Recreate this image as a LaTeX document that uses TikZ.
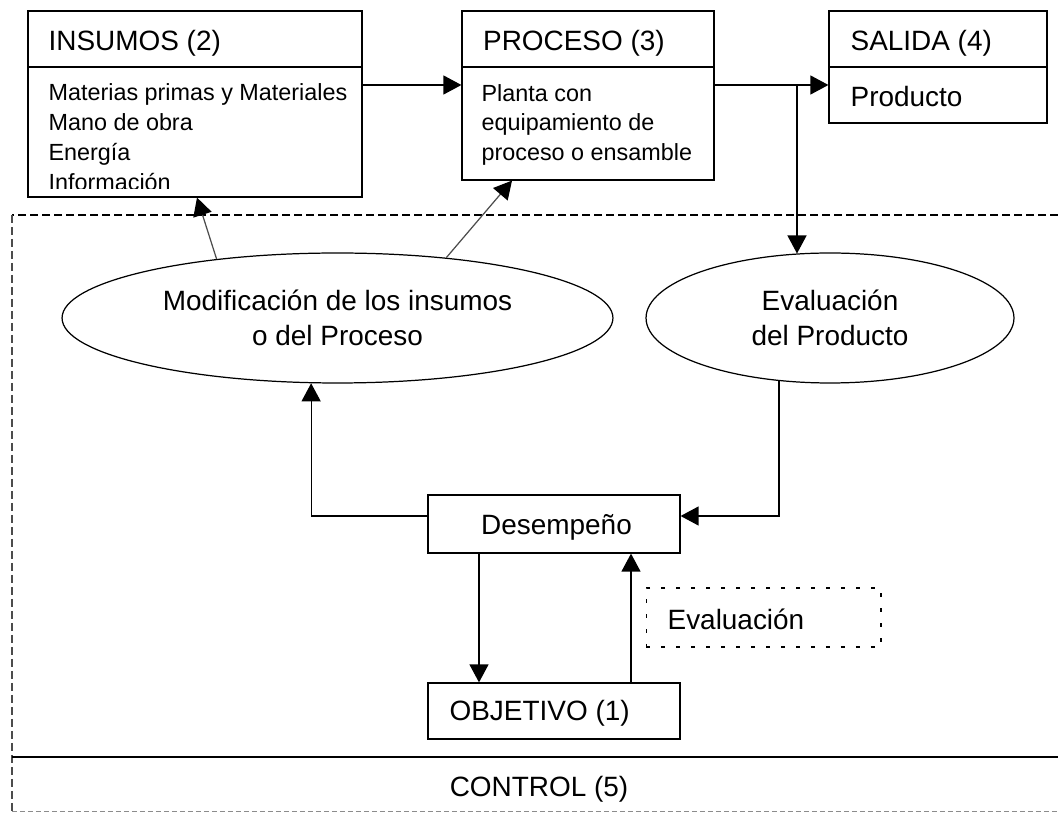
\documentclass[tikz,border=0pt]{standalone}
\usepackage{fontspec}
\setmainfont{Liberation Sans}
\usetikzlibrary{shapes.geometric,arrows.meta}
\begin{document}
\begin{tikzpicture}[x=0.02cm,y=-0.02cm,line width=0.7pt,
  arr/.style={-{Triangle[length=0.36cm,width=0.38cm]}},
  garr/.style={draw=black!70,line width=0.7pt,-{Triangle[length=0.36cm,width=0.38cm,black]}},
  box/.style={draw,rectangle,inner sep=0pt},
  title/.style={font=\fontsize{15.9}{19}\selectfont,inner sep=0pt,anchor=base west},
  body/.style={font=\fontsize{13.3}{16.5}\selectfont,inner sep=0pt,anchor=base west},
  lbl/.style={font=\fontsize{15.9}{19}\selectfont,inner sep=0pt},
  ell/.style={draw,ellipse,inner sep=0pt,minimum height=2.6cm,align=center,
    font=\fontsize{15.9}{19.9}\selectfont}]
\useasboundingbox (0,0) rectangle (1058,813);

% control region
\draw[dash pattern=on 0.16cm off 0.08cm] (1058,215) -- (12,215);
\draw[black!70,dash pattern=on 0.16cm off 0.08cm] (12,215) -- (12,812);
\draw[black!45,line width=0.5pt,dash pattern=on 0.1cm off 0.06cm] (12,811.5) -- (1058,811.5);
\draw (12,757) -- (1058,757);
\node[lbl,anchor=base] (ctx) at (539,796) {CONTROL (5)};

% top boxes
\coordinate (ydiv) at (0,67);
\coordinate (y85) at (0,85);
\node[box,minimum width=6.68cm,minimum height=3.72cm] (ins) at (195,104) {};
\draw (ins.west |- ydiv) -- (ins.east |- ydiv);
\node[title] (t2) at (48,50.5) {INSUMOS (2)};
\node[body] (i1) at (48,101) {Materias primas y Materiales};
\node[body] (i2) at (48,131) {Mano de obra};
\node[body] (i3) at (48,161) {Energía};
\begin{scope}
\clip (28,67) rectangle (362,188.5);
\node[body] (i4) at (48,191) {Información};
\end{scope}

\node[box,minimum width=5.04cm,minimum height=3.38cm] (pro) at (588,95.5) {};
\draw (pro.west |- ydiv) -- (pro.east |- ydiv);
\node[title] (t3) at (482.5,50.5) {PROCESO (3)};
\node[body] (p1) at (481,101.5) {Planta con};
\node[body] (p2) at (481,131) {equipamiento de};
\node[body] (p3) at (481,160.5) {proceso o ensamble};

\node[box,minimum width=4.36cm,minimum height=2.24cm] (sal) at (938,67) {};
\draw (sal.west |- ydiv) -- (sal.east |- ydiv);
\node[title] (t4) at (850,50.5) {SALIDA (4)};
\node[title] (prod) at (850,107) {Producto};

% ellipses
\node[ell,minimum width=11.02cm] (mod) at (337.5,318) {Modificación de los insumos\\o del Proceso};
\node[ell,minimum width=7.36cm] (ev) at (830,318) {Evaluación\\del Producto};

% lower boxes
\node[box,minimum width=5.04cm,minimum height=1.16cm] (des) at (554,524) {};
\node[lbl,anchor=base] (dtx) at (556.5,535) {Desempeño};
\node[box,minimum width=5.04cm,minimum height=1.12cm] (obj) at (554,711) {};
\node[lbl,anchor=base west] (otx) at (449,720) {OBJETIVO (1)};
\node[draw,rectangle,inner sep=0pt,line width=0.6pt,dash pattern=on 0.08cm off 0.22cm,
  minimum width=4.7cm,minimum height=1.18cm] (evb) at (763.5,617.5) {};
\node[lbl,anchor=base west] (etx) at (667,630) {Evaluación};

% connectors
\draw[arr] (ins.east |- y85) -- (pro.west |- y85);
\draw[arr] (pro.east |- y85) -- (sal.west |- y85);
\coordinate (br) at (797,85);
\draw[arr] (br) -- (797,253.5);
\draw[garr] (mod.154) -- ([xshift=0.04cm]ins.south);
\draw[garr] (mod.29) -- ([xshift=-1.52cm]pro.south);
\coordinate (c516) at (0,516);
\draw[arr] (ev.231) |- (des.east |- c516);
\draw[arr] (des.west |- c516) -| (mod.248.5);
\coordinate (xd) at (479,0);
\coordinate (xu) at (631,0);
\draw[arr] (des.south -| xd) -- (obj.north -| xd);
\draw[arr] (obj.north -| xu) -- (des.south -| xu);
\end{tikzpicture}
\end{document}
